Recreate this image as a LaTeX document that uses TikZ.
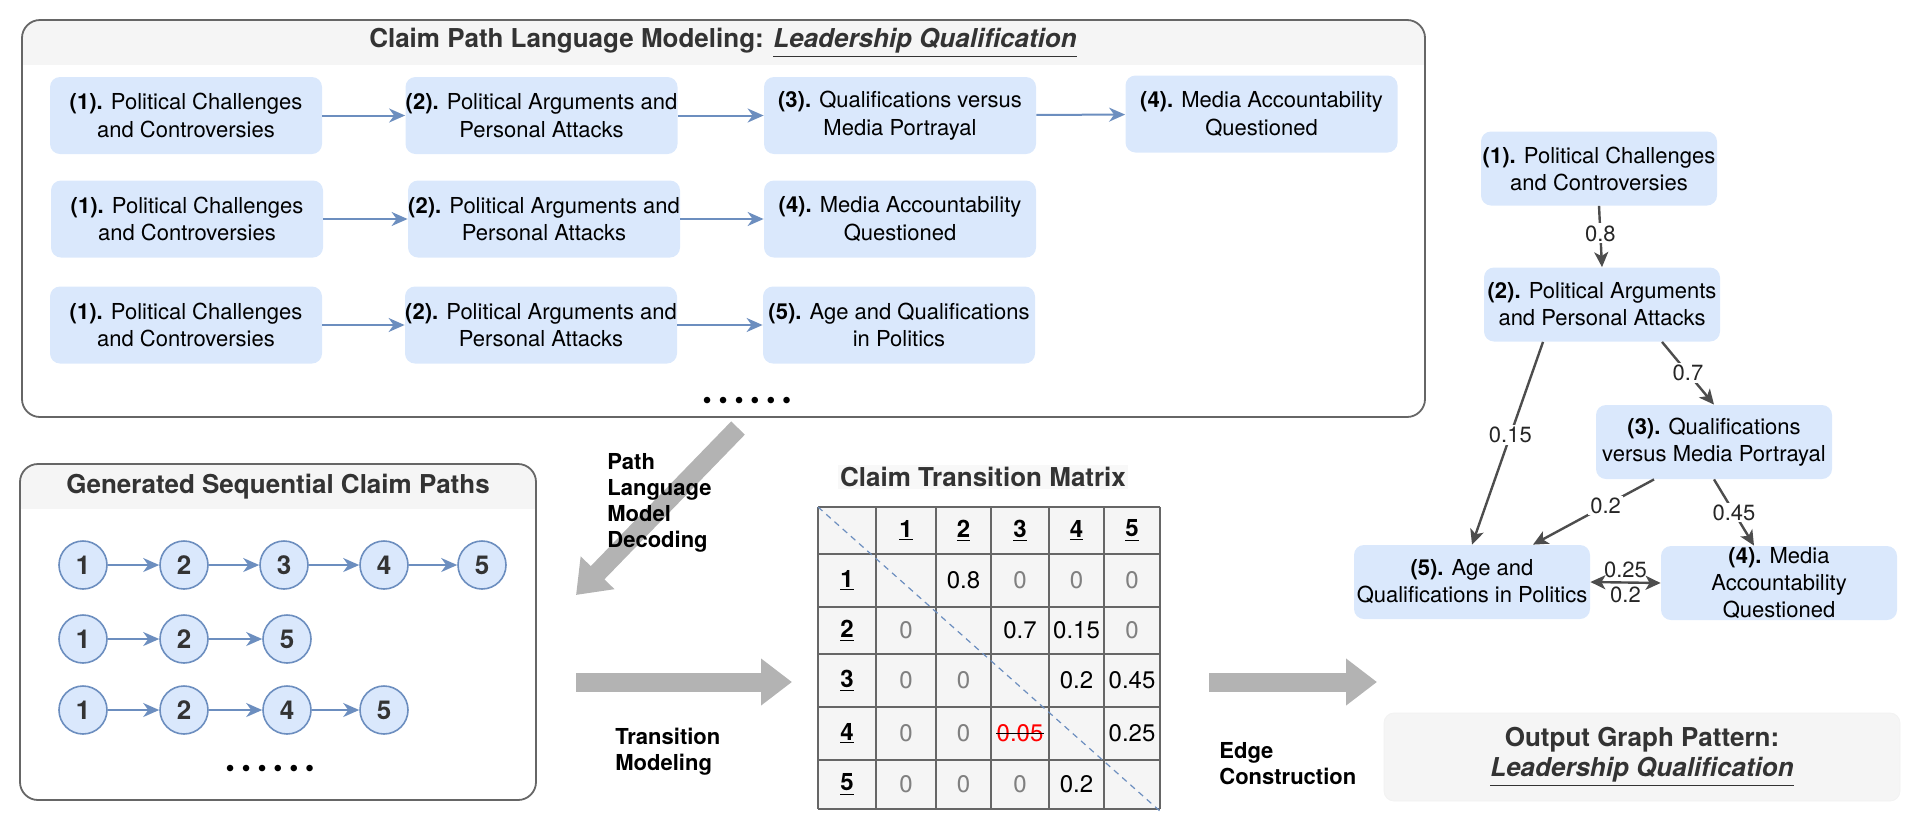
\documentclass[tikz,border=0pt]{standalone}
\usepackage{fontspec}
\setmainfont{TeX Gyre Heros}
\usetikzlibrary{arrows.meta,calc}

\definecolor{nodeblue}{HTML}{DAE8FC}
\definecolor{edgeblue}{HTML}{6C8EBF}
\definecolor{framegray}{HTML}{666666}
\definecolor{bandgray}{HTML}{F5F5F5}
\definecolor{arrowgray}{HTML}{B3B3B3}
\definecolor{darkedge}{HTML}{4D4D4D}
\definecolor{titlegray}{HTML}{333333}
\definecolor{zerogray}{HTML}{808080}

\newcommand{\dotgap}{\hspace{3.4pt}}
\newcommand{\sixdots}{\textbullet\dotgap\textbullet\dotgap\textbullet\dotgap\textbullet\dotgap\textbullet\dotgap\textbullet}

\begin{document}
\begin{tikzpicture}[x=0.5pt,y=-0.5pt,
  pathbox/.style={fill=nodeblue, rounded corners=5pt, minimum width=136pt, minimum height=38.5pt, inner sep=0pt, align=center, font=\fontsize{11}{13.75}\selectfont},
  graphbox/.style={pathbox, minimum width=118pt, minimum height=37pt, font=\fontsize{11}{13.5}\selectfont},
  claimdot/.style={circle, fill=nodeblue, draw=edgeblue, line width=0.8pt, minimum size=24pt, inner sep=0pt, font=\fontsize{13}{15}\selectfont\bfseries, text=titlegray},
  flowarrow/.style={edgeblue, line width=1pt, -{Stealth[length=8pt,width=7pt,inset=2.5pt]}},
  panel/.style={draw=framegray, line width=0.9pt, rounded corners=9pt},
  paneltitle/.style={font=\fontsize{13}{15}\selectfont\bfseries, text=titlegray, inner sep=1pt},
  bigarrow/.style={arrowgray, line width=9.5pt, -{Triangle[length=15.5pt,width=22.5pt]}},
  steplabel/.style={anchor=north west, align=left, inner sep=0pt, font=\fontsize{11}{13}\selectfont\bfseries},
  graphedge/.style={darkedge, line width=1.2pt, -{Stealth[length=7.5pt,width=7pt,inset=2pt]}},
  weightlabel/.style={fill=white, inner sep=1pt, font=\fontsize{11}{13}\selectfont, text=black!85},
  mcell/.style={inner sep=0pt, font=\fontsize{12}{14}\selectfont}]
\useasboundingbox (0,0) rectangle (1920,836);

% claim path panel
\begin{scope}
\clip[rounded corners=9pt] (22,20) rectangle (1425,417);
\fill[bandgray] (22,20) rectangle (1425,65);
\end{scope}
\draw[panel] (22,20) rectangle (1425,417);
\node[paneltitle] (lmtitle) at (723,43) {Claim Path Language Modeling: \underline{\textit{Leadership Qualification}}};

\node[pathbox] (p11) at (186,115.5) {\textbf{(1).} Political Challenges\\and Controversies};
\node[pathbox] (p12) at (541.5,115.5) {\textbf{(2).} Political Arguments and\\Personal Attacks};
\node[pathbox] (p13) at (900,115.5) {\textbf{(3).} Qualifications versus\\Media Portrayal};
\node[pathbox] (p14) at (1261.5,114) {\textbf{(4).} Media Accountability\\Questioned};
\node[pathbox] (p21) at (187,219) {\textbf{(1).} Political Challenges\\and Controversies};
\node[pathbox] (p22) at (544,219) {\textbf{(2).} Political Arguments and\\Personal Attacks};
\node[pathbox] (p23) at (900,219) {\textbf{(4).} Media Accountability\\Questioned};
\node[pathbox] (p31) at (186,325) {\textbf{(1).} Political Challenges\\and Controversies};
\node[pathbox] (p32) at (541,325) {\textbf{(2).} Political Arguments and\\Personal Attacks};
\node[pathbox] (p33) at (899,325) {\textbf{(5).} Age and Qualifications\\in Politics};

\draw[flowarrow] (p11) -- (p12);
\draw[flowarrow] (p12) -- (p13);
\draw[flowarrow] (p13) -- (p14);
\draw[flowarrow] (p21) -- (p22);
\draw[flowarrow] (p22) -- (p23);
\draw[flowarrow] (p31) -- (p32);
\draw[flowarrow] (p32) -- (p33);
\node[font=\fontsize{13}{15}\selectfont] (lmdots) at (747,403) {\sixdots};

% generated paths panel
\begin{scope}
\clip[rounded corners=9pt] (20,464) rectangle (536,800);
\fill[bandgray] (20,464) rectangle (536,509);
\end{scope}
\draw[panel] (20,464) rectangle (536,800);
\node[paneltitle] (gentitle) at (278,487) {Generated Sequential Claim Paths};

\foreach \i/\x in {1/83,2/184,3/284,4/384,5/482}
  \node[claimdot] (a\i) at (\x,565) {\i};
\foreach \i/\x/\t in {1/83/1,2/184/2,3/287/5}
  \node[claimdot] (b\i) at (\x,639) {\t};
\foreach \i/\x/\t in {1/83/1,2/184/2,3/287/4,4/384/5}
  \node[claimdot] (c\i) at (\x,710) {\t};
\foreach \i [evaluate=\i as \j using int(\i+1)] in {1,...,4}
  \draw[flowarrow] (a\i) -- (a\j);
\foreach \i [evaluate=\i as \j using int(\i+1)] in {1,2}
  \draw[flowarrow] (b\i) -- (b\j);
\foreach \i [evaluate=\i as \j using int(\i+1)] in {1,2,3}
  \draw[flowarrow] (c\i) -- (c\j);
\node[font=\fontsize{13}{15}\selectfont] (gendots) at (270,771) {\sixdots};

% big gray arrows and step labels
\coordinate (decstart) at (738,428);
\coordinate (decend) at (576,595);
\draw[bigarrow] (decstart) -- (decend);
\node[steplabel] (declabel) at (607,453) {Path\\Language\\Model\\Decoding};

\coordinate (transstart) at (576,682);
\coordinate (transend) at (792,682);
\draw[bigarrow] (transstart) -- (transend);
\node[steplabel] (translabel) at (615,728) {Transition\\Modeling};

\coordinate (edgestart) at (1209,682);
\coordinate (edgeend) at (1377,682);
\draw[bigarrow] (edgestart) -- (edgeend);
\node[steplabel] (edgelabel) at (1219,742) {Edge\\Construction};

% transition matrix
\node[paneltitle, fill=bandgray!70] (mtitle) at (983,477) {Claim Transition Matrix};
\fill[bandgray] (818,507) rectangle (1160,809);
\foreach \x in {818,876,936,991,1049,1104,1160}
  \draw[framegray, line width=1pt] (\x,507) -- (\x,809);
\foreach \y in {507,554,607,654,707,760,809}
  \draw[framegray, line width=1pt] (818,\y) -- (1160,\y);
\draw[edgeblue, dashed, line width=0.6pt, dash pattern=on 3pt off 2.5pt] (818,507) -- (1161,812);

\foreach \c/\x in {1/906,2/963.5,3/1020,4/1076.5,5/1132}
  \node[mcell] (h\c) at (\x,530.5) {\underline{\textbf{\c}}};
\foreach \r/\y in {1/580.5,2/630.5,3/680.5,4/733.5,5/784.5}
  \node[mcell] (r\r) at (847,\y) {\underline{\textbf{\r}}};
\foreach \r/\c in {1/3,1/4,1/5,2/1,2/5,3/1,3/2,4/1,4/2,5/1,5/2,5/3}
  \node[mcell, text=zerogray] (m\r\c) at (h\c |- r\r) {0};
\foreach \r/\c/\v in {1/2/0.8,2/3/0.7,2/4/0.15,3/4/0.2,3/5/0.45,4/5/0.25,5/4/0.2}
  \node[mcell] (m\r\c) at (h\c |- r\r) {\v};
\node[mcell, text=red] (m43) at (h3 |- r4) {0.05};
\draw[black, line width=0.7pt] (m43.west) -- (m43.east);

% output graph
\node[graphbox] (g1) at (1599,168.5) {\textbf{(1).} Political Challenges\\and Controversies};
\node[graphbox] (g2) at (1602,304.5) {\textbf{(2).} Political Arguments\\and Personal Attacks};
\node[graphbox] (g3) at (1714,442) {\textbf{(3).} Qualifications\\versus Media Portrayal};
\node[graphbox] (g4) at (1779,583) {\textbf{(4).} Media\\Accountability\\Questioned};
\node[graphbox] (g5) at (1472,582) {\textbf{(5).} Age and\\Qualifications in Politics};

\draw[graphedge] (g1.south) -- (g2.north) node[weightlabel, pos=0.45] {0.8};
\draw[graphedge] ($(g2.south)+(60,0)$) -- (g3.north) node[weightlabel, pos=0.5] {0.7};
\draw[graphedge] ($(g2.south)+(-59,0)$) -- (g5.north) node[weightlabel, pos=0.46] {0.15};
\draw[graphedge] ($(g3.south)+(-60,0)$) -- ($(g5.north)+(61,0)$) node[weightlabel, pos=0.4] {0.2};
\draw[graphedge] (g3.south) -- ($(g4.north)+(-25,0)$) node[weightlabel, pos=0.5] {0.45};
\draw[graphedge, {Stealth[length=7.5pt,width=7pt,inset=2pt]}-{Stealth[length=7.5pt,width=7pt,inset=2pt]}] (g5.east) -- (g4.west)
  node[midway, above=0.5pt, inner sep=1pt, font=\fontsize{11}{13}\selectfont, text=black!85] {0.25}
  node[midway, below=0.5pt, inner sep=1pt, font=\fontsize{11}{13}\selectfont, text=black!85] {0.2};

\node[paneltitle, fill=bandgray, draw=bandgray!60!framegray!20, rounded corners=5pt, minimum width=258pt, minimum height=44pt, align=center] (outbox) at (1642,757) {Output Graph Pattern:\\\underline{\textit{Leadership Qualification}}};
\end{tikzpicture}
\end{document}
